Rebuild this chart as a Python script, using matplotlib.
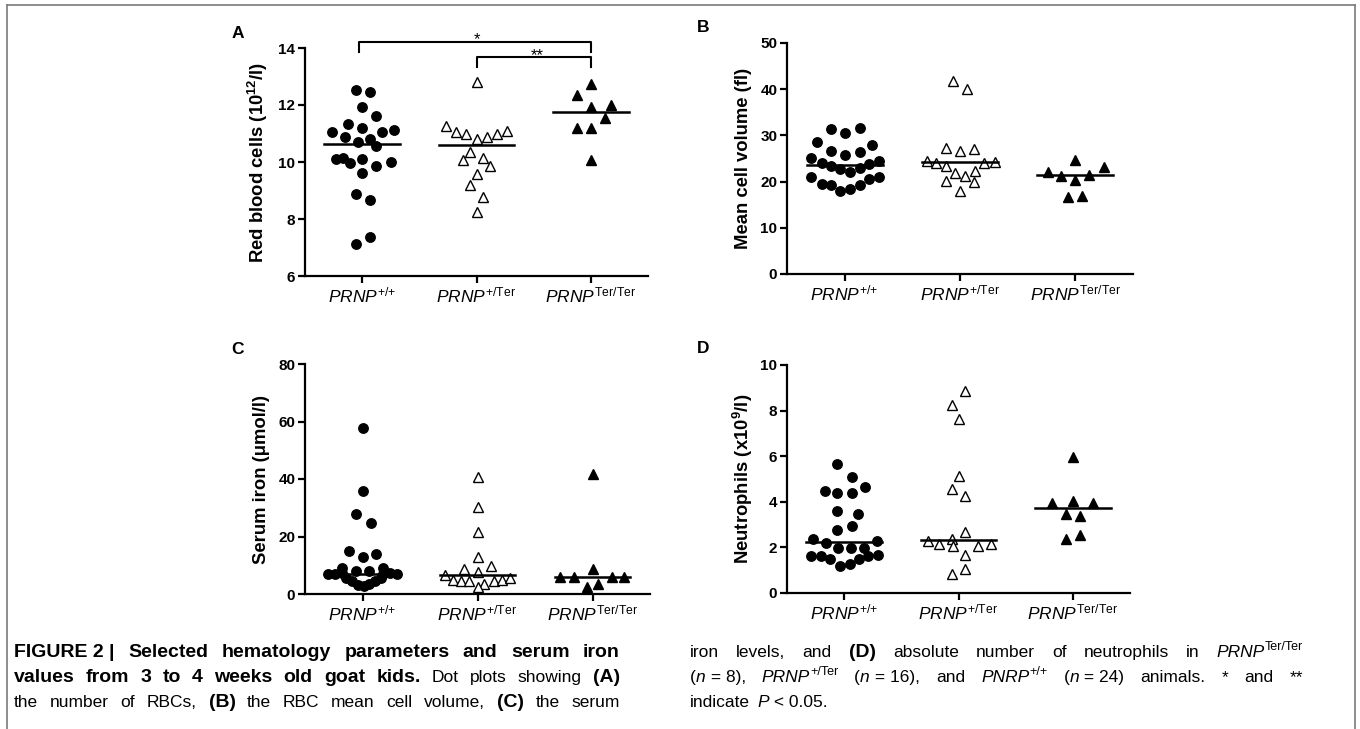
import matplotlib
matplotlib.use('Agg')
import matplotlib.pyplot as plt
from matplotlib.lines import Line2D
from matplotlib.transforms import IdentityTransform

plt.rcParams['font.family'] = ['Liberation Sans', 'DejaVu Sans']
plt.rcParams['mathtext.fontset'] = 'custom'
plt.rcParams['mathtext.rm'] = 'Liberation Sans'
plt.rcParams['mathtext.it'] = 'Liberation Sans:italic'
plt.rcParams['mathtext.bf'] = 'Liberation Sans:bold'

W, H = 1360, 729

groups = [r'$\mathit{PRNP}^{\mathrm{{+}/{+}}}$',
          r'$\mathit{PRNP}^{\mathrm{{+}/Ter}}$',
          r'$\mathit{PRNP}^{\mathrm{Ter/Ter}}$']

# A - red blood cells
rbc_wt = [12.51, 12.47, 11.94, 11.62, 11.32, 11.18, 11.04, 11.04, 11.12, 10.86, 10.71, 10.82,
          10.55, 10.09, 10.15, 9.96, 10.12, 9.85, 10.0, 9.61, 8.86, 8.65, 7.38, 7.14]
rbc_wt_dx = [-0.05, 0.07, 0.0, 0.12, -0.12, 0.0, -0.26, 0.17, 0.28, -0.15, -0.04, 0.07,
             0.12, -0.23, -0.17, -0.11, 0.0, 0.12, 0.25, 0.0, -0.05, 0.07, 0.07, -0.05]
rbc_het = [12.82, 11.27, 11.04, 11.0, 10.8, 10.88, 11.0, 11.08, 10.35, 10.06, 10.15, 9.85,
           9.59, 9.21, 8.76, 8.24]
rbc_het_dx = [0.0, -0.27, -0.18, -0.09, 0.0, 0.09, 0.18, 0.27, -0.06, -0.12, 0.06, 0.12,
              0.0, -0.06, 0.06, 0.0]
rbc_ter = [12.74, 12.35, 11.94, 12.0, 11.56, 11.18, 11.18, 10.06]
rbc_ter_dx = [0.0, -0.12, 0.0, 0.18, 0.12, -0.12, 0.0, 0.0]
rbc_med = [10.62, 10.58, 11.77]

# B - mean cell volume
mcv_wt = [31.36, 30.49, 31.58, 28.47, 27.82, 26.66, 25.79, 26.37, 25.07, 24.13, 23.48, 22.69,
          22.04, 22.9, 23.84, 24.49, 20.95, 19.51, 19.29, 17.99, 18.42, 19.29, 20.52, 21.1]
mcv_wt_dx = [-0.12, 0.0, 0.13, -0.24, 0.24, -0.12, 0.0, 0.13, -0.29, -0.2, -0.12, -0.04,
             0.05, 0.13, 0.21, 0.3, -0.29, -0.2, -0.12, -0.04, 0.05, 0.13, 0.21, 0.3]
mcv_het = [41.69, 40.03, 27.38, 26.52, 27.1, 24.49, 23.99, 23.27, 23.99, 24.2, 21.82, 21.24,
           22.33, 20.16, 20.01, 18.06]
mcv_het_dx = [-0.06, 0.06, -0.12, 0.0, 0.12, -0.29, -0.21, -0.12, 0.21, 0.3, -0.04, 0.04,
              0.13, -0.12, 0.12, 0.0]
mcv_ter = [24.57, 23.12, 22.04, 21.24, 21.46, 20.38, 16.62, 16.91]
mcv_ter_dx = [0.0, 0.25, -0.24, -0.12, 0.12, 0.0, -0.06, 0.06]
mcv_med = [23.63, 24.15, 21.4]

# C - serum iron
iron_wt = [57.9, 35.8, 27.8, 24.8, 15.0, 12.8, 13.8, 8.9, 8.1, 8.1, 8.9, 7.0,
           7.0, 7.2, 7.0, 7.2, 7.0, 5.6, 4.4, 3.2, 2.8, 3.4, 4.6, 5.6]
iron_wt_dx = [0.0, 0.0, -0.06, 0.07, -0.12, 0.0, 0.12, -0.18, -0.06, 0.06, 0.18, -0.3,
              -0.24, -0.18, 0.18, 0.24, 0.3, -0.14, -0.09, -0.04, 0.01, 0.06, 0.11, 0.16]
iron_het = [40.6, 30.4, 21.4, 12.9, 8.7, 9.8, 7.6, 6.7, 4.7, 4.6, 4.5, 3.5, 2.4, 4.6, 4.7, 5.5]
iron_het_dx = [0.0, 0.0, 0.0, 0.0, -0.12, 0.12, 0.0, -0.28, -0.21, -0.14, -0.07, 0.06,
               0.0, 0.14, 0.21, 0.28]
iron_ter = [41.7, 8.6, 5.8, 5.8, 5.8, 5.8, 2.5, 3.5]
iron_ter_dx = [0.0, 0.0, -0.28, -0.16, 0.17, 0.27, -0.05, 0.05]
iron_med = [6.9, 6.5, 5.9]

# D - neutrophils
neu_wt = [5.66, 5.07, 4.67, 4.48, 4.38, 4.38, 3.58, 3.47, 2.96, 2.77, 2.38, 2.19,
          1.97, 1.97, 1.97, 2.26, 1.61, 1.61, 1.49, 1.2, 1.27, 1.49, 1.61, 1.68]
neu_wt_dx = [-0.06, 0.07, 0.18, -0.17, -0.06, 0.07, -0.06, 0.12, 0.07, -0.06, -0.27, -0.16,
             -0.05, 0.06, 0.17, 0.29, -0.29, -0.2, -0.12, -0.04, 0.05, 0.13, 0.21, 0.3]
neu_het = [8.86, 8.25, 7.62, 5.15, 4.55, 4.26, 2.67, 2.36, 2.26, 2.16, 2.04, 2.04,
           2.16, 1.68, 1.07, 0.85]
neu_het_dx = [0.06, -0.06, 0.0, 0.0, -0.06, 0.06, 0.06, -0.06, -0.27, -0.17, -0.05, 0.17,
              0.28, 0.06, 0.06, -0.06]
neu_ter = [5.96, 3.94, 4.04, 3.94, 3.47, 3.36, 2.36, 2.53]
neu_ter_dx = [0.0, -0.18, 0.0, 0.18, -0.06, 0.06, -0.06, 0.06]
neu_med = [2.23, 2.34, 3.75]

panels = [
    ('A', r'Red blood cells (10$^{\mathbf{12}}$/l)', (6, 14), [6, 8, 10, 12, 14],
     [(rbc_wt, rbc_wt_dx), (rbc_het, rbc_het_dx), (rbc_ter, rbc_ter_dx)], rbc_med,
     (305, 276, 343, 228), (238, 33), -0.102),
    ('B', 'Mean cell volume (fl)', (0, 50), [0, 10, 20, 30, 40, 50],
     [(mcv_wt, mcv_wt_dx), (mcv_het, mcv_het_dx), (mcv_ter, mcv_ter_dx)], mcv_med,
     (787, 274, 346, 231), (703, 28), -0.101),
    ('C', u'Serum iron (\u03bcmol/l)', (0, 80), [0, 20, 40, 60, 80],
     [(iron_wt, iron_wt_dx), (iron_het, iron_het_dx), (iron_ter, iron_ter_dx)], iron_med,
     (305, 594, 345, 230), (238, 349), -0.102),
    ('D', r'Neutrophils (x10$^{\mathbf{9}}$/l)', (0, 10), [0, 2, 4, 6, 8, 10],
     [(neu_wt, neu_wt_dx), (neu_het, neu_het_dx), (neu_ter, neu_ter_dx)], neu_med,
     (787, 593, 343, 228), (703, 348), -0.093),
]

fig = plt.figure(figsize=(W / 100, H / 100), dpi=100)

# marker style for each genotype
styles = [dict(marker='o', ms=6.8, mfc='black', mec='black'),
          dict(marker='^', ms=7.0, mfc='white', mec='black', mew=1.0),
          dict(marker='^', ms=7.0, mfc='black', mec='black')]

axes = {}
for letter, ylab, ylim, yt, series, med, box, lpos, lx in panels:
    l, b, w, h = box
    ax = fig.add_axes([l / W, 1 - b / H, w / W, h / H])
    axes[letter] = ax
    for i, (vals, dx) in enumerate(series):
        xs = [i + d for d in dx]
        ax.plot(xs, vals, ls='none', clip_on=False, zorder=3, **styles[i])
        ax.plot([i - 0.33, i + 0.33], [med[i], med[i]], color='black', lw=1.8, zorder=4)
    ax.set_xlim(-0.5, 2.5)
    ax.set_ylim(*ylim)
    ax.set_yticks(yt)
    ax.set_xticks([0, 1, 2])
    ax.set_xticklabels(groups, fontsize=12.5)
    for s in ['top', 'right']:
        ax.spines[s].set_visible(False)
    for s in ['left', 'bottom']:
        ax.spines[s].set_linewidth(1.6)
    ax.tick_params(axis='both', width=1.6, length=5, direction='out')
    ax.tick_params(axis='y', labelsize=11, pad=2)
    ax.tick_params(axis='x', pad=2)
    for t in ax.get_yticklabels():
        t.set_fontweight('bold')
    ax.set_ylabel(ylab, fontsize=13.3, fontweight='bold')
    ax.yaxis.set_label_coords(lx, 0.5)
    fig.text(lpos[0] / W, 1 - lpos[1] / H, letter, fontsize=12.5, fontweight='bold',
             ha='center', va='center')

# significance brackets on panel A
axA = axes['A']
axA.plot([-0.03, -0.03, 2.0, 2.0], [13.87, 14.22, 14.22, 13.87], color='black', lw=1.5,
         clip_on=False)
axA.plot([1.0, 1.0, 2.0, 2.0], [13.35, 13.7, 13.7, 13.35], color='black', lw=1.5,
         clip_on=False)
axA.text(1.0, 14.13, '*', ha='center', va='baseline', fontsize=12, clip_on=False)
axA.text(1.53, 13.57, '**', ha='center', va='baseline', fontsize=12, clip_on=False)

# frame lines around the figure
gray = '#7a7a7a'
fig.add_artist(Line2D([7 / W, 1355 / W], [1 - 5 / H, 1 - 5 / H], color=gray, lw=1.2))
fig.add_artist(Line2D([7 / W, 7 / W], [0, 1 - 5 / H], color=gray, lw=1.2))
fig.add_artist(Line2D([1355 / W, 1355 / W], [0, 1 - 5 / H], color=gray, lw=1.2))

# caption, laid out word by word so that lines are justified
renderer = fig.canvas.get_renderer()
REG = ['Liberation Sans', 'DejaVu Sans']
BOLD = ['Liberation Sans Narrow', 'Liberation Sans', 'DejaVu Sans']
CAP = 12.5
CAP_B = 14.0


def put_line(words, x0, x1, base, justify=True):
    placed = []
    widths = []
    for word in words:
        runs = []
        wid = 0.0
        for txt, k in word:
            fs = CAP * 0.72 if k == 's' else (CAP_B if k == 'b' else CAP)
            t = fig.text(0, 0, txt, transform=IdentityTransform(), fontsize=fs,
                         family=BOLD if k == 'b' else REG,
                         fontweight='bold' if k == 'b' else 'normal',
                         fontstyle='italic' if k == 'i' else 'normal',
                         ha='left', va='baseline')
            runs.append((t, wid, k))
            wid += t.get_window_extent(renderer).width
        placed.append(runs)
        widths.append(wid)
    if justify and len(words) > 1:
        gap = (x1 - x0 - sum(widths)) / (len(words) - 1)
    else:
        gap = CAP * 100 / 72 * 0.45
    x = x0
    for runs, wid in zip(placed, widths):
        for t, off, k in runs:
            lift = CAP * 100 / 72 * 0.4 if k == 's' else 0
            t.set_position((x + off, H - base + lift))
        x += wid + gap


def words_of(text, kind):
    return [[(w, kind)] for w in text.split()]


left = [
    [[('FIGURE 2 |', 'b')]] + words_of('Selected hematology parameters and serum iron', 'b'),
    words_of('values from 3 to 4 weeks old goat kids.', 'b') + words_of('Dot plots showing', 'r')
    + [[('(A)', 'b')]],
    words_of('the number of RBCs,', 'r') + [[('(B)', 'b')]]
    + words_of('the RBC mean cell volume,', 'r') + [[('(C)', 'b')]] + words_of('the serum', 'r'),
]
right = [
    words_of('iron levels, and', 'r') + [[('(D)', 'b')]]
    + words_of('absolute number of neutrophils in', 'r') + [[('PRNP', 'i'), ('Ter/Ter', 's')]],
    [[('(', 'r'), ('n', 'i'), (' = 8),', 'r')], [('PRNP', 'i'), ('+/Ter', 's')],
     [('(', 'r'), ('n', 'i'), (' = 16),', 'r')], [('and', 'r')], [('PNRP', 'i'), ('+/+', 's')],
     [('(', 'r'), ('n', 'i'), (' = 24)', 'r')], [('animals.', 'r')], [('*', 'r')],
     [('and', 'r')], [('**', 'r')]],
    [[('indicate', 'r')], [('P', 'i'), (' < 0.05.', 'r')]],
]
bases = [657, 682, 707]
for i, line in enumerate(left):
    put_line(line, 14, 620, bases[i])
for i, line in enumerate(right):
    put_line(line, 690, 1303, bases[i], justify=(i < 2))

fig.savefig('out.png', dpi=100)
